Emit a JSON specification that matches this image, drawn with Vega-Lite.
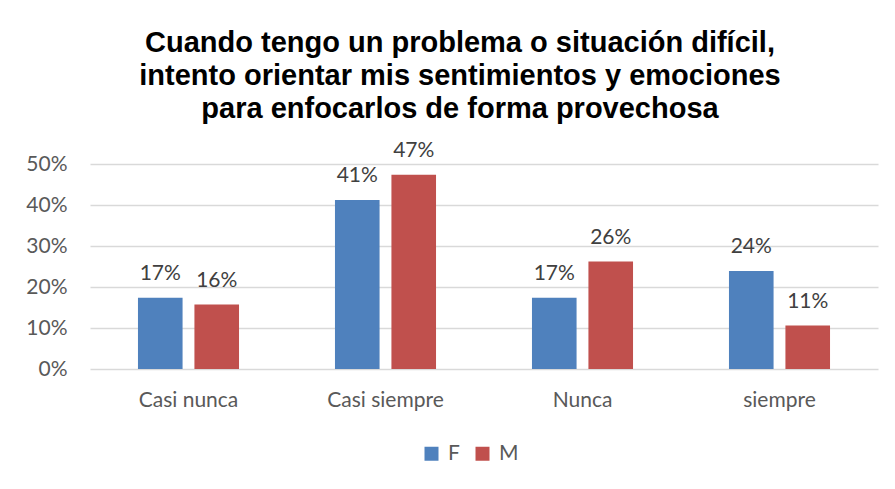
{
  "$schema": "https://vega.github.io/schema/vega-lite/v6.json",
  "autosize": {"type": "none"},
  "width": 788,
  "height": 205,
  "padding": {"left": 90, "top": 164, "right": 17, "bottom": 120},
  "background": "white",
  "title": {
    "text": ["Cuando tengo un problema o situación difícil,", "intento orientar mis sentimientos y emociones", "para enfocarlos de forma provechosa"],
    "font": "Liberation Sans",
    "fontSize": 29,
    "fontWeight": "bold",
    "color": "#000000",
    "lineHeight": 33,
    "anchor": "middle",
    "dx": -24,
    "offset": 16
  },
  "data": {
    "values": [
      {"categoria": "Casi nunca", "sexo": "F", "valor": 0.1736},
      {"categoria": "Casi nunca", "sexo": "M", "valor": 0.1573},
      {"categoria": "Casi siempre", "sexo": "F", "valor": 0.412},
      {"categoria": "Casi siempre", "sexo": "M", "valor": 0.474},
      {"categoria": "Nunca", "sexo": "F", "valor": 0.174},
      {"categoria": "Nunca", "sexo": "M", "valor": 0.262},
      {"categoria": "siempre", "sexo": "F", "valor": 0.239},
      {"categoria": "siempre", "sexo": "M", "valor": 0.106}
    ]
  },
  "encoding": {
    "x": {
      "field": "categoria",
      "type": "nominal",
      "sort": null,
      "scale": {"paddingInner": 0.487, "paddingOuter": 0.2435},
      "axis": {
        "title": null,
        "labelAngle": 0,
        "domain": false,
        "ticks": false,
        "grid": false,
        "labelFont": "Lato",
        "labelFontSize": 21,
        "labelColor": "#595959",
        "labelPadding": 20
      }
    },
    "xOffset": {
      "field": "sexo",
      "type": "nominal",
      "scale": {"paddingInner": 0.21, "paddingOuter": 0}
    },
    "y": {
      "field": "valor",
      "type": "quantitative",
      "scale": {"domain": [0, 0.5]},
      "axis": {
        "title": null,
        "values": [0, 0.1, 0.2, 0.3, 0.4, 0.5],
        "format": ".0%",
        "domain": false,
        "ticks": false,
        "grid": true,
        "gridColor": "#D9D9D9",
        "gridWidth": 1.3,
        "labelFont": "Lato",
        "labelFontSize": 21,
        "labelColor": "#595959",
        "labelPadding": 23
      }
    }
  },
  "layer": [
    {
      "mark": {"type": "bar"},
      "encoding": {
        "color": {
          "field": "sexo",
          "type": "nominal",
          "scale": {"domain": ["F", "M"], "range": ["#4F81BD", "#C0504D"]},
          "legend": {
            "title": null,
            "orient": "none",
            "legendX": 331,
            "legendY": 279,
            "direction": "horizontal",
            "symbolType": "square",
            "symbolSize": 196,
            "symbolStrokeWidth": 0,
            "labelFont": "Lato",
            "labelFontSize": 21,
            "labelColor": "#595959",
            "columnPadding": 12,
            "labelOffset": 6
          }
        }
      }
    },
    {
      "mark": {
        "type": "text",
        "baseline": "alphabetic",
        "dy": -18,
        "font": "Lato",
        "fontSize": 21,
        "color": "#404040"
      },
      "encoding": {
        "text": {"field": "valor", "type": "quantitative", "format": ".0%"}
      }
    }
  ],
  "config": {
    "view": {"stroke": null}
  }
}
